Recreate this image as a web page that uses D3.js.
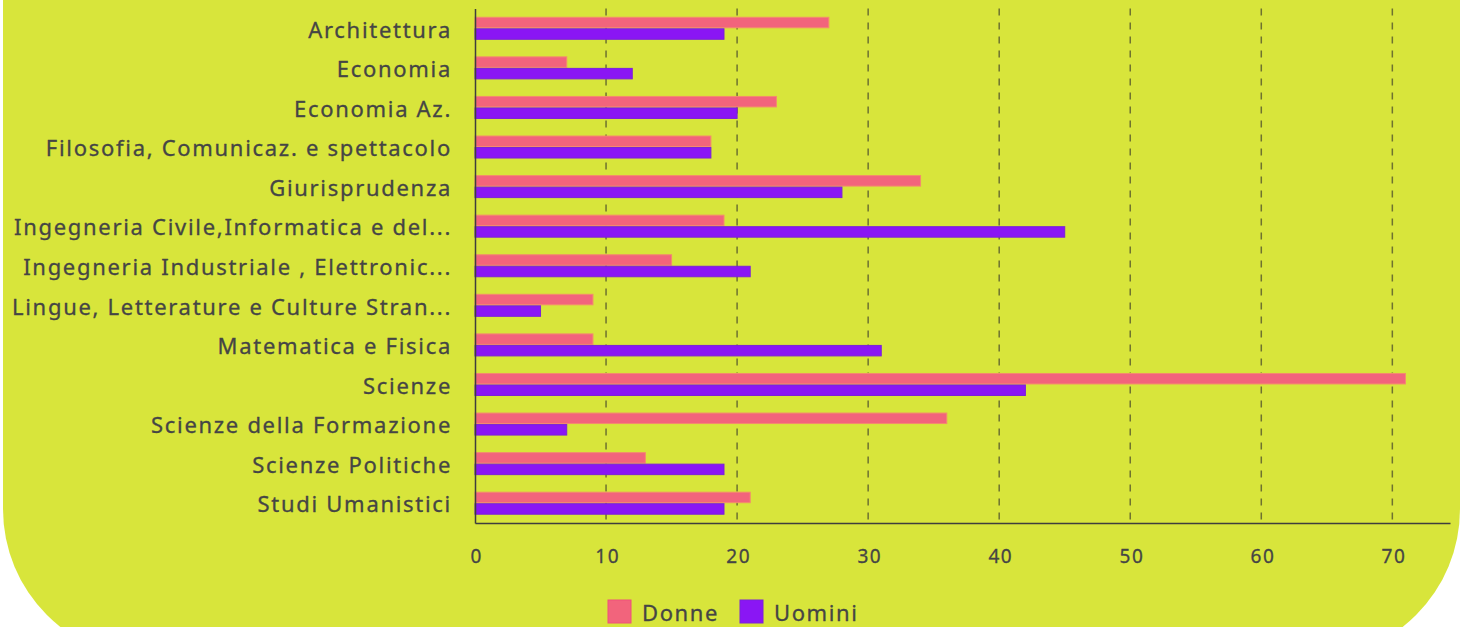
<!DOCTYPE html>
<html>
<head>
<meta charset="utf-8">
<script src="https://cdn.jsdelivr.net/npm/d3@7"></script>
<style>
  html, body { margin: 0; padding: 0; background: #ffffff; }
  svg { display: block; }
  text { font-family: "Noto Sans", "Open Sans", sans-serif; fill: #454545; stroke: #454545; stroke-width: 0.3px; }
</style>
</head>
<body>
<svg id="chart" width="1467" height="627"></svg>
<script>
// Student counts per department, split by gender
const categories = [
  "Architettura",
  "Economia",
  "Economia Az.",
  "Filosofia, Comunicaz. e spettacolo",
  "Giurisprudenza",
  "Ingegneria Civile,Informatica e del...",
  "Ingegneria Industriale , Elettronic...",
  "Lingue, Letterature e Culture Stran...",
  "Matematica e Fisica",
  "Scienze",
  "Scienze della Formazione",
  "Scienze Politiche",
  "Studi Umanistici"
];
const donne  = [27, 7, 23, 18, 34, 19, 15, 9, 9, 71, 36, 13, 21];
const uomini = [19, 12, 20, 18, 28, 45, 21, 5, 31, 42, 7, 19, 19];
const seriesNames = ["Donne", "Uomini"];
const xTicks = [0, 10, 20, 30, 40, 50, 60, 70];

const colors = { Donne: "#f2647c", Uomini: "#8a16f4" };
const strokes = { Donne: "#f48a6e", Uomini: "#7a22d8" };

const svg = d3.select("#chart");

// Card background with rounded bottom corners
const cardL = 3, cardR = 1460, cardB = 659, r = 150;
svg.append("path")
  .attr("d", `M${cardL},-10 L${cardR},-10 L${cardR},${cardB - r} A${r},${r} 0 0 1 ${cardR - r},${cardB} L${cardL + r},${cardB} A${r},${r} 0 0 1 ${cardL},${cardB - r} Z`)
  .attr("fill", "#d8e53b");

const plot = { left: 475, right: 1450, top: 8.5, bottom: 523 };

const x = d3.scaleLinear().domain([0, 74.4]).range([plot.left, plot.right]);
const y = d3.scaleBand().domain(categories).range([plot.top, plot.bottom]).paddingInner(0).paddingOuter(0);
const sub = d3.scaleBand().domain(seriesNames).range([-11, 11]).paddingInner(0.09);

// Dashed vertical grid
svg.append("g").selectAll("line")
  .data(xTicks.filter(d => d > 0))
  .join("line")
  .attr("x1", d => x(d)).attr("x2", d => x(d))
  .attr("y1", plot.top).attr("y2", plot.bottom)
  .attr("stroke", "#6e7230")
  .attr("stroke-width", 1.5)
  .attr("stroke-dasharray", "7,7");

// Bars
const rows = categories.map((c, i) => ({ c, Donne: donne[i], Uomini: uomini[i] }));
const groups = svg.append("g").selectAll("g")
  .data(rows)
  .join("g")
  .attr("transform", d => `translate(0,${y(d.c) + y.bandwidth() / 2})`);

groups.selectAll("rect")
  .data(d => seriesNames.map(s => ({ s, v: d[s] })))
  .join("rect")
  .attr("x", x(0))
  .attr("y", d => sub(d.s))
  .attr("width", d => x(d.v) - x(0))
  .attr("height", sub.bandwidth())
  .attr("fill", d => colors[d.s])
  .attr("stroke", d => strokes[d.s])
  .attr("stroke-width", 1);

// Axes
const xAxis = d3.axisBottom(x).tickValues(xTicks).tickSize(0).tickPadding(27).tickFormat(d3.format("d"));
const gx = svg.append("g").attr("transform", `translate(0,${plot.bottom})`).call(xAxis);
gx.select(".domain").attr("stroke", "#3e3e3e").attr("stroke-width", 1.5);
gx.selectAll("text")
  .attr("font-size", 19)
  .attr("dx", "0.06em")
  .style("font-family", "'Noto Sans', sans-serif")
  .style("letter-spacing", "1.5px")
  .attr("fill", "#454545");

const yAxis = d3.axisLeft(y).tickSize(0).tickPadding(23);
const gy = svg.append("g").attr("transform", `translate(${plot.left},0)`).call(yAxis);
gy.select(".domain").attr("stroke", "#3e3e3e").attr("stroke-width", 1.5);
gy.selectAll("text")
  .attr("font-size", 22)
  .attr("dy", "0.42em")
  .style("font-family", "'Noto Sans', sans-serif")
  .style("letter-spacing", "1.7px")
  .attr("fill", "#454545");

// Legend
const legend = svg.append("g").attr("transform", "translate(608,600)");
const items = legend.selectAll("g").data(seriesNames).join("g")
  .attr("transform", (d, i) => `translate(${i * 132},0)`);
items.append("rect")
  .attr("width", 23).attr("height", 23)
  .attr("fill", d => colors[d])
  .attr("stroke", d => d === "Donne" ? "#f0507a" : "#7a22d8")
  .attr("stroke-width", 1);
items.append("text")
  .attr("x", 34).attr("y", 21)
  .attr("font-size", 22)
  .style("letter-spacing", "1.6px")
  .text(d => d);
</script>
</body>
</html>
